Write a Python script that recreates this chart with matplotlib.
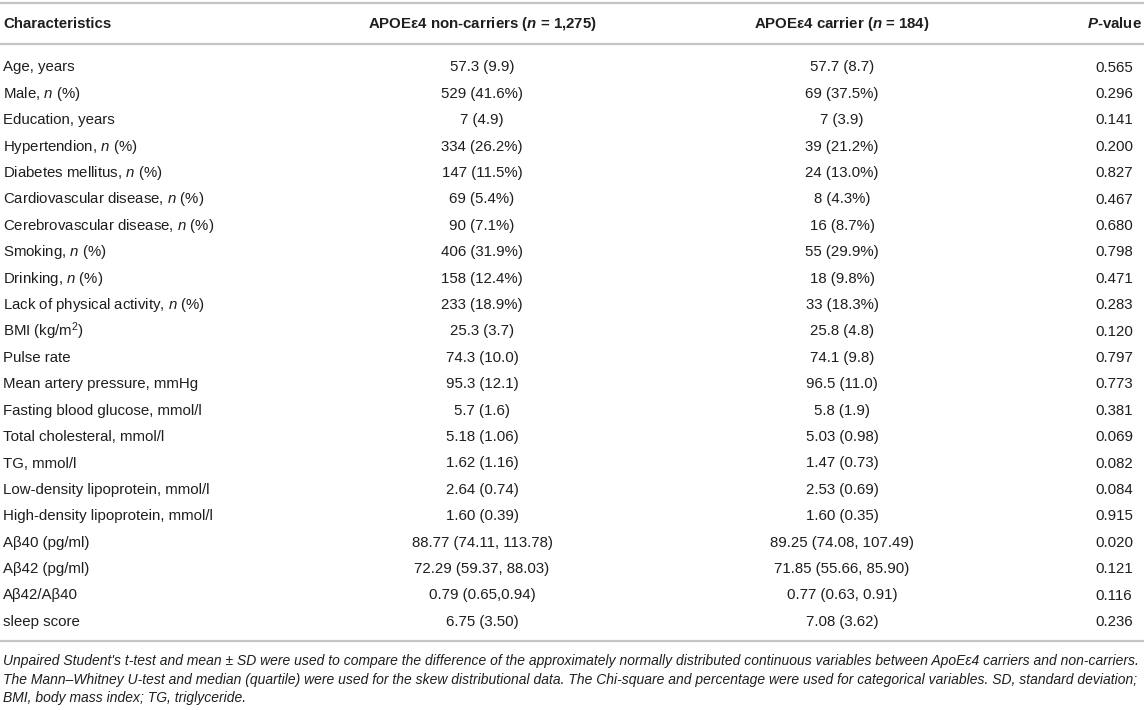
import matplotlib
matplotlib.use("Agg")
import matplotlib.pyplot as plt

plt.rcParams["font.family"] = ["Liberation Sans", "DejaVu Sans"]
plt.rcParams["mathtext.fontset"] = "custom"
plt.rcParams["mathtext.rm"] = "Liberation Sans"
plt.rcParams["mathtext.it"] = "Liberation Sans:italic"
plt.rcParams["mathtext.bf"] = "Liberation Sans:bold"
plt.rcParams["mathtext.bfit"] = "Liberation Sans:italic:bold"

# table content
headers = ["Characteristics",
           r"APOEε4 non-carriers ($\mathbfit{n}$ = 1,275)",
           r"APOEε4 carrier ($\mathbfit{n}$ = 184)",
           r"$\mathbfit{P}$-value"]

characteristics = [
    "Age, years",
    "Male, $n$ (%)",
    "Education, years",
    "Hypertendion, $n$ (%)",
    "Diabetes mellitus, $n$ (%)",
    "Cardiovascular disease, $n$ (%)",
    "Cerebrovascular disease, $n$ (%)",
    "Smoking, $n$ (%)",
    "Drinking, $n$ (%)",
    "Lack of physical activity, $n$ (%)",
    "BMI (kg/m$^2$)",
    "Pulse rate",
    "Mean artery pressure, mmHg",
    "Fasting blood glucose, mmol/l",
    "Total cholesteral, mmol/l",
    "TG, mmol/l",
    "Low-density lipoprotein, mmol/l",
    "High-density lipoprotein, mmol/l",
    "Aβ40 (pg/ml)",
    "Aβ42 (pg/ml)",
    "Aβ42/Aβ40",
    "sleep score",
]

non_carriers = [
    "57.3 (9.9)", "529 (41.6%)", "7 (4.9)", "334 (26.2%)", "147 (11.5%)",
    "69 (5.4%)", "90 (7.1%)", "406 (31.9%)", "158 (12.4%)", "233 (18.9%)",
    "25.3 (3.7)", "74.3 (10.0)", "95.3 (12.1)", "5.7 (1.6)", "5.18 (1.06)",
    "1.62 (1.16)", "2.64 (0.74)", "1.60 (0.39)", "88.77 (74.11, 113.78)",
    "72.29 (59.37, 88.03)", "0.79 (0.65,0.94)", "6.75 (3.50)",
]

carriers = [
    "57.7 (8.7)", "69 (37.5%)", "7 (3.9)", "39 (21.2%)", "24 (13.0%)",
    "8 (4.3%)", "16 (8.7%)", "55 (29.9%)", "18 (9.8%)", "33 (18.3%)",
    "25.8 (4.8)", "74.1 (9.8)", "96.5 (11.0)", "5.8 (1.9)", "5.03 (0.98)",
    "1.47 (0.73)", "2.53 (0.69)", "1.60 (0.35)", "89.25 (74.08, 107.49)",
    "71.85 (55.66, 85.90)", "0.77 (0.63, 0.91)", "7.08 (3.62)",
]

p_values = [
    "0.565", "0.296", "0.141", "0.200", "0.827", "0.467", "0.680", "0.798",
    "0.471", "0.283", "0.120", "0.797", "0.773", "0.381", "0.069", "0.082",
    "0.084", "0.915", "0.020", "0.121", "0.116", "0.236",
]

footnote = [
    "Unpaired Student's t-test and mean ± SD were used to compare the difference of the approximately normally distributed continuous variables between ApoEε4 carriers and non-carriers.",
    "The Mann–Whitney U-test and median (quartile) were used for the skew distributional data. The Chi-square and percentage were used for categorical variables. SD, standard deviation;",
    "BMI, body mass index; TG, triglyceride.",
]

W, H = 1144, 710
TEXT = "#1e1e1e"
RULE = "#c4c4c4"
FS = 10.8

fig = plt.figure(figsize=(W / 100, H / 100), dpi=100)
ax = fig.add_axes([0, 0, 1, 1])
ax.set_xlim(0, W)
ax.set_ylim(H, 0)
ax.axis("off")

x_left, x_mid1, x_mid2, x_p = 3, 482, 842, 1114

# header
hy = 28
ax.text(x_left, hy, headers[0], ha="left", va="baseline", fontsize=FS, weight="bold", color=TEXT)
ax.text(x_mid1, hy, headers[1], ha="center", va="baseline", fontsize=FS, weight="bold", color=TEXT)
ax.text(x_mid2, hy, headers[2], ha="center", va="baseline", fontsize=FS, weight="bold", color=TEXT)
ax.text(x_p, hy, headers[3], ha="center", va="baseline", fontsize=FS, weight="bold", color=TEXT)

# rules
for y in (3, 44):
    ax.hlines(y, 0, W, color=RULE, lw=1.6)

# body rows
y0, step = 71.5, 26.4
for i, (c, a, b, p) in enumerate(zip(characteristics, non_carriers, carriers, p_values)):
    y = y0 + i * step
    ax.text(x_left, y, c, ha="left", va="baseline", fontsize=FS, color=TEXT)
    ax.text(x_mid1, y, a, ha="center", va="baseline", fontsize=FS, color=TEXT)
    ax.text(x_mid2, y, b, ha="center", va="baseline", fontsize=FS, color=TEXT)
    ax.text(x_p, y, p, ha="center", va="baseline", fontsize=FS, color=TEXT)

bottom = y0 + (len(characteristics) - 1) * step + 15.5
ax.hlines(bottom, 0, W, color=RULE, lw=1.6)

# footnote
for j, line in enumerate(footnote):
    ax.text(x_left, bottom + 24 + j * 18.5, line, ha="left", va="baseline",
            fontsize=10, style="italic", color=TEXT)

fig.savefig("out.png", dpi=100)
